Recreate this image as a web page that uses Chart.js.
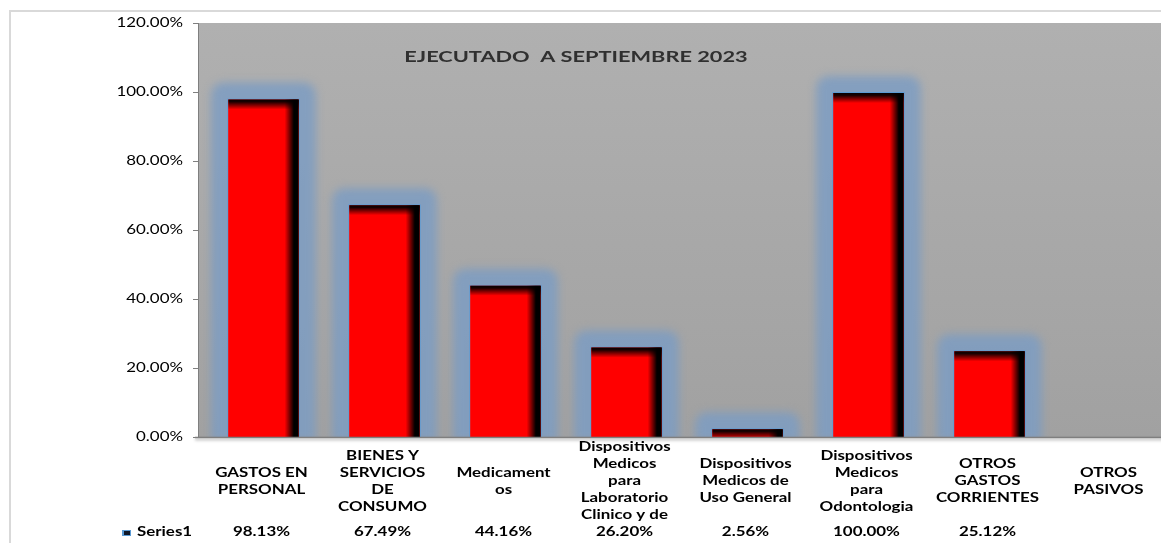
<!DOCTYPE html>
<html lang="es">
<head>
    <meta charset="UTF-8">
    <title>Ejecutado a septiembre 2023</title>
    <script src="https://cdn.jsdelivr.net/npm/chart.js"></script>
    <style>
        html, body { margin: 0; padding: 0; background: #fff; overflow: hidden; }
        #wrap { width: 1171px; height: 543px; }
    </style>
</head>
<body>
<div id="wrap"><canvas id="myChart" width="1171" height="543"></canvas></div>

<script>
    // data
    const categories = [
        ['GASTOS EN', 'PERSONAL'],
        ['BIENES Y', 'SERVICIOS', 'DE', 'CONSUMO'],
        ['Medicament', 'os'],
        ['Dispositivos', 'Medicos', 'para', 'Laboratorio', 'Clinico y de'],
        ['Dispositivos', 'Medicos de', 'Uso General'],
        ['Dispositivos', 'Medicos', 'para', 'Odontologia'],
        ['OTROS', 'GASTOS', 'CORRIENTES'],
        ['OTROS', 'PASIVOS']
    ];
    const series1 = [98.13, 67.49, 44.16, 26.20, 2.56, 100.00, 25.12, null];
    const seriesName = 'Series1';
    const chartTitle = 'EJECUTADO  A SEPTIEMBRE 2023';
    const yMin = 0;
    const yMax = 120;
    const yStep = 20;

    const fmt = v => v == null ? '' : v.toFixed(2) + '%';
    const AXIS_X = 199;

    // draws text stretched horizontally like the excel export
    const stretchText = (ctx, text, x, y, sx) => {
        ctx.save();
        ctx.translate(x, y);
        ctx.scale(sx, 1);
        ctx.fillText(text, 0, 0);
        ctx.restore();
    };

    const roundRect = (ctx, x, y, w, h, r) => {
        ctx.beginPath();
        ctx.moveTo(x + r, y);
        ctx.lineTo(x + w - r, y);
        ctx.quadraticCurveTo(x + w, y, x + w, y + r);
        ctx.lineTo(x + w, y + h);
        ctx.lineTo(x, y + h);
        ctx.lineTo(x, y + r);
        ctx.quadraticCurveTo(x, y, x + r, y);
        ctx.closePath();
    };

    const excelLook = {
        id: 'excelLook',
        beforeDraw(chart) {
            const ctx = chart.ctx;
            const a = chart.chartArea;
            ctx.save();
            // outer chart border
            ctx.strokeStyle = '#d9d9d9';
            ctx.lineWidth = 2;
            ctx.strokeRect(10, 11, 1300, 700);
            // plot area fill
            const g = ctx.createLinearGradient(0, a.top, 0, a.bottom);
            g.addColorStop(0, '#b0b0b0');
            g.addColorStop(1, '#a1a1a1');
            ctx.fillStyle = g;
            ctx.fillRect(AXIS_X, a.top, a.right - AXIS_X, a.bottom - a.top);
            ctx.restore();
        },
        beforeDatasetsDraw(chart) {
            const ctx = chart.ctx;
            const a = chart.chartArea;
            const meta = chart.getDatasetMeta(0);
            ctx.save();
            ctx.beginPath();
            ctx.rect(AXIS_X, a.top, a.right - AXIS_X, a.bottom - a.top);
            ctx.clip();
            meta.data.forEach((bar, i) => {
                if (series1[i] == null) return;
                const p = bar.getProps(['x', 'y', 'base', 'width'], true);
                const x0 = p.x - p.width / 2;
                ctx.save();
                ctx.filter = 'blur(4px)';
                ctx.fillStyle = 'rgba(124,156,194,0.85)';
                roundRect(ctx, x0 - 16, p.y - 16, p.width + 32, p.base - p.y + 20, 14);
                ctx.fill();
                ctx.restore();
            });
            ctx.restore();
        },
        afterDatasetsDraw(chart) {
            const ctx = chart.ctx;
            const a = chart.chartArea;
            const meta = chart.getDatasetMeta(0);
            const ys = chart.scales.y;
            // dark bevel on bars
            meta.data.forEach((bar, i) => {
                if (series1[i] == null) return;
                const p = bar.getProps(['x', 'y', 'base', 'width'], true);
                const x0 = p.x - p.width / 2 + 1;
                const w = p.width - 2;
                const h = p.base - p.y - 1;
                ctx.save();
                ctx.beginPath();
                ctx.rect(x0, p.y + 1, w, h);
                ctx.clip();
                const gr = ctx.createLinearGradient(x0, 0, x0 + w, 0);
                gr.addColorStop(0, 'rgba(0,0,0,0)');
                gr.addColorStop(0.8, 'rgba(0,0,0,0)');
                gr.addColorStop(0.93, 'rgba(0,0,0,1)');
                gr.addColorStop(1, 'rgba(0,0,0,1)');
                ctx.fillStyle = gr;
                ctx.fillRect(x0, p.y, w, h + 1);
                const gt = ctx.createLinearGradient(0, p.y, 0, p.y + 11);
                gt.addColorStop(0, 'rgba(0,0,0,1)');
                gt.addColorStop(0.3, 'rgba(0,0,0,0.9)');
                gt.addColorStop(1, 'rgba(0,0,0,0)');
                ctx.fillStyle = gt;
                ctx.fillRect(x0, p.y, w, 12);
                ctx.restore();
            });

            ctx.save();
            // value axis line and tick marks
            ctx.strokeStyle = '#7f7f7f';
            ctx.lineWidth = 1;
            ctx.beginPath();
            ctx.moveTo(AXIS_X - 0.5, a.top);
            ctx.lineTo(AXIS_X - 0.5, a.bottom);
            ys.ticks.forEach(t => {
                const py = Math.round(ys.getPixelForValue(t.value)) + 0.5;
                ctx.moveTo(AXIS_X - 6, py);
                ctx.lineTo(AXIS_X, py);
            });
            ctx.stroke();
            // category axis line with soft shadow
            ctx.shadowColor = 'rgba(0,0,0,0.35)';
            ctx.shadowBlur = 3;
            ctx.shadowOffsetY = 2;
            ctx.lineWidth = 1.5;
            ctx.beginPath();
            ctx.moveTo(AXIS_X - 4, a.bottom + 0.5);
            ctx.lineTo(a.right, a.bottom + 0.5);
            ctx.stroke();
            ctx.restore();

            ctx.save();
            ctx.fillStyle = '#000';
            ctx.textBaseline = 'middle';

            // y tick labels
            ctx.font = '13px Lato';
            ctx.textAlign = 'right';
            ys.ticks.forEach(t => {
                stretchText(ctx, fmt(t.value), AXIS_X - 16, ys.getPixelForValue(t.value), 1.3);
            });

            // title inside plot
            ctx.fillStyle = '#303030';
            ctx.font = 'bold 16px Lato';
            ctx.textAlign = 'center';
            stretchText(ctx, chartTitle, 576, 57, 1.36);

            // data table: category labels and values
            const xs = chart.scales.x;
            ctx.fillStyle = '#000';
            ctx.font = 'bold 13px Lato';
            categories.forEach((lines, i) => {
                const cx = xs.getPixelForValue(i) - 2;
                const top = 481 - (lines.length - 1) * 17 / 2;
                lines.forEach((ln, j) => stretchText(ctx, ln, cx, top + j * 17, 1.3));
                stretchText(ctx, fmt(series1[i]), cx, 532, 1.3);
            });

            // legend key + series name
            ctx.save();
            ctx.filter = 'blur(0.6px)';
            ctx.fillStyle = '#5b9bd5';
            ctx.fillRect(122, 530, 9, 6);
            ctx.fillStyle = '#101828';
            ctx.fillRect(124, 531, 6, 4);
            ctx.restore();
            ctx.fillStyle = '#000';
            ctx.textAlign = 'left';
            stretchText(ctx, seriesName, 137, 532, 1.3);
            ctx.restore();
        }
    };

    const ctx = document.getElementById('myChart').getContext('2d');
    new Chart(ctx, {
        type: 'bar',
        data: {
            labels: categories,
            datasets: [{
                label: seriesName,
                data: series1,
                backgroundColor: '#ff0000',
                borderColor: '#5b9bd5',
                borderWidth: 1,
                barPercentage: 0.6,
                categoryPercentage: 1
            }]
        },
        options: {
            responsive: false,
            animation: false,
            layout: { padding: { top: 23, bottom: 106, left: 0, right: 0 } },
            plugins: {
                legend: { display: false },
                title: { display: false },
                tooltip: { enabled: false }
            },
            scales: {
                x: { display: false },
                y: {
                    min: yMin,
                    max: yMax,
                    ticks: { stepSize: yStep, color: 'rgba(0,0,0,0)', font: { size: 13 } },
                    grid: { display: false },
                    border: { display: false },
                    afterFit: scale => { scale.width = 203; }
                }
            }
        },
        plugins: [excelLook]
    });
</script>
</body>
</html>
